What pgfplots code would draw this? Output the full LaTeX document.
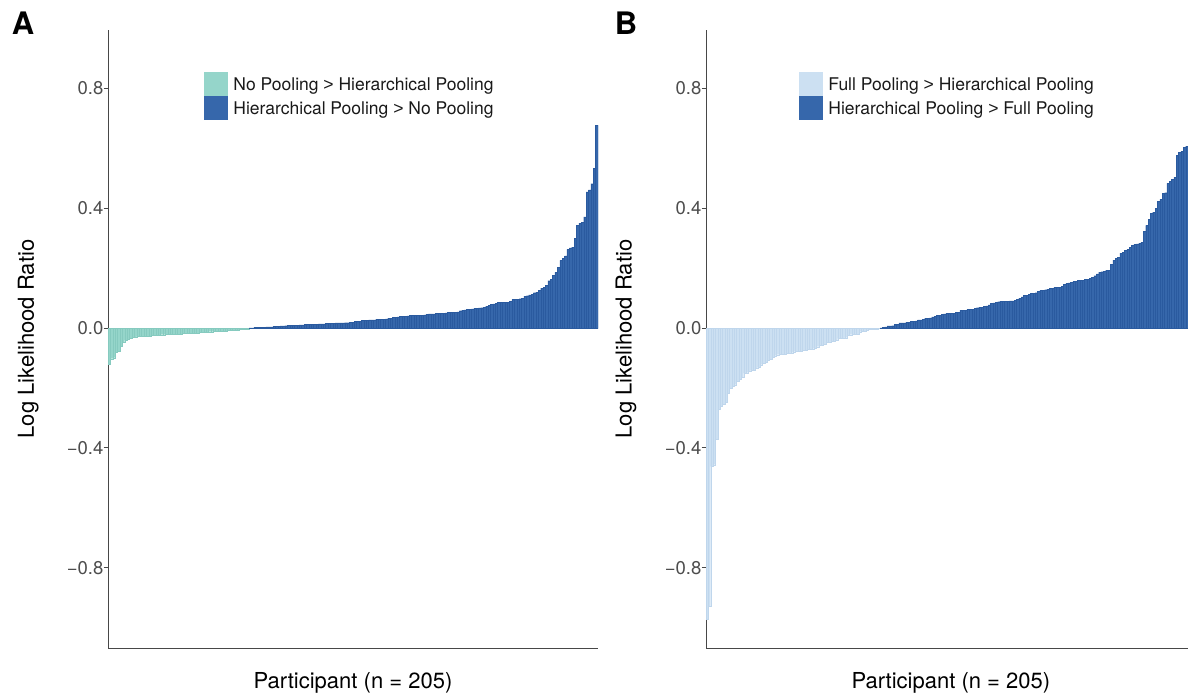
\documentclass[border=0pt]{standalone}
\usepackage{pgfplots}
\usepackage{pgfplotstable}
\usepackage{fontspec}
\setmainfont{TeX Gyre Heros}
\newfontfamily\gtfont{Liberation Sans}
\pgfplotsset{compat=1.18}
\definecolor{tealA}{HTML}{95D5CA}
\definecolor{tealE}{HTML}{86CABF}
\definecolor{darkB}{HTML}{3667AB}
\definecolor{darkE}{HTML}{2A5A9F}
\definecolor{lightB}{HTML}{CCE0F2}
\definecolor{lightE}{HTML}{BFD6EC}
\definecolor{tickgray}{HTML}{4D4D4D}
\newcommand\tfont{\fontsize{18.5}{22}\selectfont}
\newcommand\lfont{\fontsize{22}{26}\selectfont}
\newcommand\gfont{\fontsize{17.5}{21}\selectfont}
\newcommand\gt{{\gtfont >}}

\pgfplotstableread{
x y
1 -0.121
2 -0.102
3 -0.099
4 -0.080
5 -0.078
6 -0.061
7 -0.047
8 -0.040
9 -0.038
10 -0.033
11 -0.030
12 -0.029
13 -0.028
14 -0.028
15 -0.027
16 -0.027
17 -0.027
18 -0.026
19 -0.025
20 -0.024
21 -0.023
22 -0.023
23 -0.022
24 -0.022
25 -0.021
26 -0.021
27 -0.020
28 -0.020
29 -0.020
30 -0.019
31 -0.019
32 -0.018
33 -0.018
34 -0.017
35 -0.017
36 -0.017
37 -0.016
38 -0.016
39 -0.014
40 -0.014
41 -0.013
42 -0.013
43 -0.012
44 -0.012
45 -0.011
46 -0.011
47 -0.010
48 -0.010
49 -0.009
50 -0.009
51 -0.008
52 -0.007
53 -0.007
54 -0.006
55 -0.006
56 -0.005
57 -0.004
58 -0.003
59 -0.002
}\Aneg

\pgfplotstableread{
x y
60 0.001
61 0.001
62 0.002
63 0.002
64 0.003
65 0.003
66 0.003
67 0.004
68 0.004
69 0.004
70 0.005
71 0.005
72 0.006
73 0.007
74 0.007
75 0.008
76 0.009
77 0.009
78 0.010
79 0.010
80 0.010
81 0.011
82 0.011
83 0.012
84 0.012
85 0.013
86 0.013
87 0.013
88 0.013
89 0.014
90 0.014
91 0.014
92 0.015
93 0.016
94 0.016
95 0.016
96 0.017
97 0.017
98 0.017
99 0.017
100 0.018
101 0.018
102 0.019
103 0.020
104 0.022
105 0.023
106 0.023
107 0.025
108 0.026
109 0.026
110 0.027
111 0.027
112 0.027
113 0.029
114 0.030
115 0.030
116 0.030
117 0.031
118 0.032
119 0.032
120 0.035
121 0.036
122 0.037
123 0.039
124 0.040
125 0.040
126 0.041
127 0.042
128 0.042
129 0.043
130 0.043
131 0.043
132 0.043
133 0.044
134 0.046
135 0.047
136 0.047
137 0.047
138 0.049
139 0.050
140 0.050
141 0.050
142 0.051
143 0.052
144 0.053
145 0.053
146 0.053
147 0.054
148 0.058
149 0.060
150 0.061
151 0.062
152 0.063
153 0.064
154 0.065
155 0.066
156 0.067
157 0.068
158 0.070
159 0.073
160 0.076
161 0.079
162 0.081
163 0.082
164 0.085
165 0.085
166 0.086
167 0.086
168 0.087
169 0.090
170 0.095
171 0.096
172 0.096
173 0.098
174 0.099
175 0.107
176 0.108
177 0.111
178 0.113
179 0.118
180 0.120
181 0.127
182 0.133
183 0.135
184 0.142
185 0.158
186 0.162
187 0.177
188 0.186
189 0.202
190 0.226
191 0.232
192 0.241
193 0.263
194 0.268
195 0.270
196 0.299
197 0.343
198 0.350
199 0.353
200 0.371
201 0.455
202 0.461
203 0.482
204 0.533
205 0.677
}\Apos

\pgfplotstableread{
x y
1 -0.972
2 -0.929
3 -0.462
4 -0.456
5 -0.372
6 -0.270
7 -0.262
8 -0.253
9 -0.246
10 -0.216
11 -0.201
12 -0.194
13 -0.189
14 -0.178
15 -0.170
16 -0.163
17 -0.150
18 -0.149
19 -0.143
20 -0.140
21 -0.140
22 -0.133
23 -0.130
24 -0.122
25 -0.118
26 -0.114
27 -0.108
28 -0.103
29 -0.097
30 -0.092
31 -0.089
32 -0.088
33 -0.088
34 -0.087
35 -0.083
36 -0.083
37 -0.082
38 -0.079
39 -0.076
40 -0.076
41 -0.076
42 -0.075
43 -0.075
44 -0.071
45 -0.070
46 -0.069
47 -0.068
48 -0.062
49 -0.057
50 -0.056
51 -0.053
52 -0.046
53 -0.046
54 -0.045
55 -0.045
56 -0.041
57 -0.034
58 -0.033
59 -0.033
60 -0.032
61 -0.024
62 -0.022
63 -0.021
64 -0.020
65 -0.019
66 -0.012
67 -0.011
68 -0.009
69 -0.007
70 -0.005
71 -0.003
72 -0.002
73 -0.002
74 -0.001
}\Bneg

\pgfplotstableread{
x y
75 0.001
76 0.002
77 0.004
78 0.007
79 0.007
80 0.008
81 0.013
82 0.013
83 0.017
84 0.017
85 0.017
86 0.020
87 0.020
88 0.023
89 0.023
90 0.024
91 0.027
92 0.027
93 0.030
94 0.033
95 0.033
96 0.034
97 0.037
98 0.040
99 0.042
100 0.043
101 0.046
102 0.047
103 0.049
104 0.050
105 0.050
106 0.050
107 0.053
108 0.053
109 0.059
110 0.060
111 0.060
112 0.062
113 0.063
114 0.063
115 0.066
116 0.068
117 0.070
118 0.070
119 0.072
120 0.074
121 0.077
122 0.083
123 0.084
124 0.087
125 0.088
126 0.090
127 0.090
128 0.090
129 0.090
130 0.091
131 0.091
132 0.093
133 0.096
134 0.099
135 0.104
136 0.110
137 0.110
138 0.113
139 0.117
140 0.117
141 0.118
142 0.122
143 0.127
144 0.127
145 0.128
146 0.130
147 0.133
148 0.133
149 0.137
150 0.137
151 0.137
152 0.140
153 0.146
154 0.150
155 0.151
156 0.153
157 0.156
158 0.157
159 0.160
160 0.160
161 0.160
162 0.163
163 0.163
164 0.166
165 0.170
166 0.175
167 0.181
168 0.187
169 0.188
170 0.190
171 0.193
172 0.193
173 0.213
174 0.227
175 0.233
176 0.237
177 0.250
178 0.252
179 0.260
180 0.263
181 0.270
182 0.277
183 0.280
184 0.281
185 0.283
186 0.287
187 0.323
188 0.343
189 0.363
190 0.383
191 0.387
192 0.400
193 0.423
194 0.430
195 0.450
196 0.452
197 0.483
198 0.490
199 0.497
200 0.503
201 0.577
202 0.587
203 0.590
204 0.603
205 0.607
}\Bpos

\pgfplotsset{
  llr/.style={
    scale only axis,
    height=618pt,
    anchor=south west,
    xmin=0.5, xmax=205.5,
    ymin=-1.068, ymax=0.995,
    axis lines*=left,
    axis line style={-, draw=black!72, line width=0.9pt},
    xtick=\empty,
    ytick={-0.8,-0.4,0,0.4,0.8},
    yticklabels={−0.8,−0.4,0.0,0.4,0.8},
    tick align=outside,
    major tick length=4.5pt,
    tick style={draw=black!72, line width=0.9pt},
    yticklabel style={font=\tfont, text=tickgray, inner sep=0pt, anchor=east},
    xlabel={Participant (n = 205)},
    ylabel={Log Likelihood Ratio},
    legend cell align=left,
    legend style={draw=none, fill=none, inner sep=0pt, outer sep=0pt,
      anchor=north west, row sep=1pt, font=\gfont,
      nodes={inner sep=0pt, text depth=0.15em, text=black!90}},
    /tikz/every odd column/.append style={column sep=6pt},
  }
}

\begin{document}
\begin{tikzpicture}
\useasboundingbox (0pt,0pt) rectangle (1188pt,694pt);

\begin{axis}[llr, at={(108pt,46pt)}, width=490pt,
  every axis y label/.style={at={(axis description cs:-0.163,0.5)}, rotate=90, anchor=center, font=\lfont, text=black, inner sep=0pt},
  every axis x label/.style={at={(axis description cs:0.5,-0.0663)}, anchor=base, font=\lfont, text=black, inner sep=0pt},
  legend style={at={(axis description cs:0.196,0.932)}}]
\addplot[ybar, bar width=1, bar shift=0pt, fill=tealA, draw=tealE, line width=0.2pt, forget plot] table[x=x,y=y] {\Aneg};
\addplot[ybar, bar width=1, bar shift=0pt, fill=darkB, draw=darkE, line width=0.25pt, forget plot] table[x=x,y=y] {\Apos};
\addlegendimage{legend image code/.code={\fill[tealA] (0pt,-10.5pt) rectangle (23pt,12.5pt);}}
\addlegendentry{No Pooling \gt{} Hierarchical Pooling}
\addlegendimage{legend image code/.code={\fill[darkB] (0pt,-10.5pt) rectangle (23pt,12.5pt);}}
\addlegendentry{Hierarchical Pooling \gt{} No Pooling}
\end{axis}

\begin{axis}[llr, at={(706pt,46pt)}, width=482pt,
  every axis y label/.style={at={(axis description cs:-0.166,0.5)}, rotate=90, anchor=center, font=\lfont, text=black, inner sep=0pt},
  every axis x label/.style={at={(axis description cs:0.508,-0.0663)}, anchor=base, font=\lfont, text=black, inner sep=0pt},
  legend style={at={(axis description cs:0.193,0.932)}}]
\addplot[ybar, bar width=1, bar shift=0pt, fill=lightB, draw=lightE, line width=0.2pt, forget plot] table[x=x,y=y] {\Bneg};
\addplot[ybar, bar width=1, bar shift=0pt, fill=darkB, draw=darkE, line width=0.25pt, forget plot] table[x=x,y=y] {\Bpos};
\addlegendimage{legend image code/.code={\fill[lightB] (0pt,-10.5pt) rectangle (23pt,12.5pt);}}
\addlegendentry{Full Pooling \gt{} Hierarchical Pooling}
\addlegendimage{legend image code/.code={\fill[darkB] (0pt,-10.5pt) rectangle (23pt,12.5pt);}}
\addlegendentry{Hierarchical Pooling \gt{} Full Pooling}
\end{axis}

\node[font=\fontsize{31}{36}\selectfont\bfseries, inner sep=0pt] at (23pt,671pt) {A};
\node[font=\fontsize{31}{36}\selectfont\bfseries, inner sep=0pt] at (626pt,671pt) {B};
\end{tikzpicture}
\end{document}
